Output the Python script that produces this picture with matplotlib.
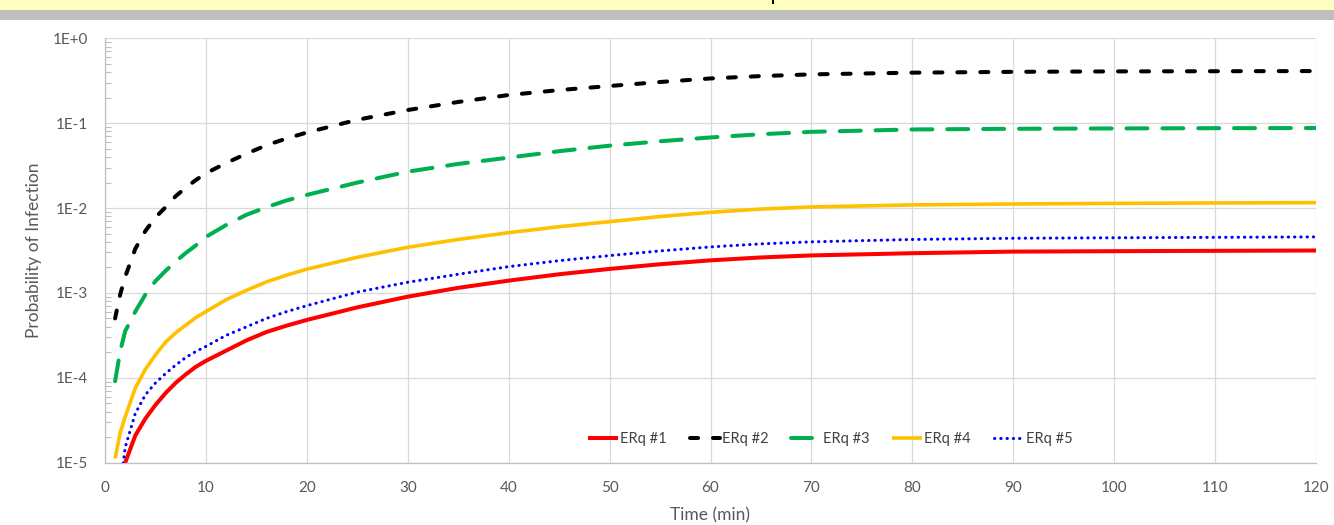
import numpy as np
import matplotlib
matplotlib.use("Agg")
import matplotlib.pyplot as plt
from matplotlib.patches import Rectangle
from matplotlib.ticker import LogLocator, FixedLocator, NullFormatter

# ---------------- data ----------------
time_min = [1, 1.5, 2, 3, 4, 5, 6, 7, 8, 9, 10, 12, 14, 16, 18, 20, 25, 30, 35,
            40, 45, 50, 55, 60, 65, 70, 80, 90, 100, 110, 120]

# log10 of probability of infection
log_erq1 = [np.nan, np.nan, -5.0, -4.68, -4.48, -4.32, -4.18, -4.06, -3.96, -3.87,
            -3.80, -3.68, -3.56, -3.46, -3.385, -3.318, -3.17, -3.044, -2.94,
            -2.855, -2.78, -2.717, -2.662, -2.616, -2.582, -2.558, -2.532, -2.513,
            -2.508, -2.504, -2.50]
log_erq2 = [-3.30, -3.02, -2.81, -2.48, -2.27, -2.11, -1.99, -1.86, -1.76, -1.67,
            -1.59, -1.47, -1.36, -1.26, -1.18, -1.11, -0.96, -0.845, -0.75,
            -0.668, -0.61, -0.562, -0.515, -0.473, -0.445, -0.425, -0.405, -0.395,
            -0.39, -0.388, -0.386]
log_erq3 = [-4.04, -3.69, -3.45, -3.22, -3.02, -2.86, -2.74, -2.63, -2.53, -2.44,
            -2.34, -2.20, -2.08, -1.99, -1.91, -1.845, -1.70, -1.571, -1.48,
            -1.406, -1.33, -1.265, -1.213, -1.168, -1.130, -1.102, -1.074, -1.066,
            -1.062, -1.059, -1.057]
log_erq4 = [-4.95, -4.65, -4.46, -4.12, -3.90, -3.73, -3.58, -3.47, -3.38, -3.29,
            -3.22, -3.08, -2.97, -2.87, -2.79, -2.72, -2.58, -2.462, -2.37,
            -2.29, -2.22, -2.16, -2.10, -2.050, -2.012, -1.987, -1.963, -1.952,
            -1.945, -1.94, -1.936]
log_erq5 = [np.nan, -5.3, -4.82, -4.42, -4.20, -4.06, -3.95, -3.85, -3.76, -3.69,
            -3.63, -3.50, -3.40, -3.30, -3.22, -3.15, -2.99, -2.874, -2.78,
            -2.69, -2.62, -2.56, -2.505, -2.458, -2.422, -2.398, -2.370, -2.356,
            -2.35, -2.345, -2.34]

series_labels = ["ERq #1", "ERq #2", "ERq #3", "ERq #4", "ERq #5"]
x_ticks = list(range(0, 121, 10))
y_ticks = [1e-5, 1e-4, 1e-3, 1e-2, 1e-1, 1e0]
y_tick_labels = ["1E-5", "1E-4", "1E-3", "1E-2", "1E-1", "1E+0"]

# ---------------- figure ----------------
plt.rcParams['font.family'] = ['Lato', 'DejaVu Sans']
W, H = 1334, 525
fig = plt.figure(figsize=(W / 100, H / 100), dpi=100)
fig.patch.set_facecolor("white")

# screenshot header strips
fig.patches.append(Rectangle((0, 1 - 10 / H), 1, 10 / H, transform=fig.transFigure,
                             facecolor="#FFFFC0", edgecolor="none", zorder=0))
fig.patches.append(Rectangle((0, 1 - 20 / H), 1, 10 / H, transform=fig.transFigure,
                             facecolor="#BFBFBF", edgecolor="none", zorder=0))
fig.patches.append(Rectangle((772 / W, 1 - 4 / H), 1.5 / W, 4 / H, transform=fig.transFigure,
                             facecolor="#000000", edgecolor="none", zorder=1))

left, right = 105 / W, 1316 / W
bottom, top = 1 - 462.7 / H, 1 - 38.3 / H
ax = fig.add_axes([left, bottom, right - left, top - bottom])

t = np.array(time_min)
styles = [
    dict(color="#FF0000", lw=2.9, ls="-"),
    dict(color="#000000", lw=2.9, ls=(0, (2.0, 3.7))),
    dict(color="#00B050", lw=2.9, ls=(0, (5.2, 3.7))),
    dict(color="#FFC000", lw=2.6, ls="-"),
    dict(color="#0000FF", lw=2.2, ls=(0, (0.1, 1.95))),
]
for logv, lab, st in zip([log_erq1, log_erq2, log_erq3, log_erq4, log_erq5],
                         series_labels, styles):
    ax.plot(t, 10 ** np.array(logv), label=lab, color=st["color"], lw=st["lw"],
            ls=st["ls"], dash_capstyle="round", solid_capstyle="butt",
            solid_joinstyle="round", zorder=3)

ax.set_yscale("log")
ax.set_xlim(0, 120)
ax.set_ylim(1e-5, 1)

ax.set_xticks(x_ticks)
ax.set_xticklabels([str(v) for v in x_ticks])
ax.yaxis.set_major_locator(FixedLocator(y_ticks))
ax.set_yticklabels(y_tick_labels)
ax.yaxis.set_minor_locator(LogLocator(base=10, subs=np.arange(2, 10), numticks=20))
ax.yaxis.set_minor_formatter(NullFormatter())

tick_color = "#595959"
ax.tick_params(axis="both", which="major", length=0, pad=12, labelsize=11,
               labelcolor=tick_color)
ax.tick_params(axis="x", which="major", pad=13)
ax.tick_params(axis="y", which="minor", direction="in", length=4.5, width=0.8,
               color="#BFBFBF")

ax.grid(True, which="major", color="#D9D9D9", lw=0.9, zorder=0)
for s in ["top", "right"]:
    ax.spines[s].set_visible(False)
for s in ["left", "bottom"]:
    ax.spines[s].set_color("#BFBFBF")
    ax.spines[s].set_linewidth(0.9)

ax.set_xlabel("Time (min)", fontsize=12.5, color=tick_color, labelpad=9)
ax.set_ylabel("Probability of Infection", fontsize=12.5, color=tick_color, labelpad=8)

leg = ax.legend(loc="center", bbox_to_anchor=(0.599, 0.056), ncol=5, frameon=False,
                fontsize=10.5, handlelength=2.05, handletextpad=0.15,
                columnspacing=1.55, borderpad=0, borderaxespad=0)
for txt in leg.get_texts():
    txt.set_color("#404040")

fig.savefig("out.png", dpi=100, facecolor="white")
